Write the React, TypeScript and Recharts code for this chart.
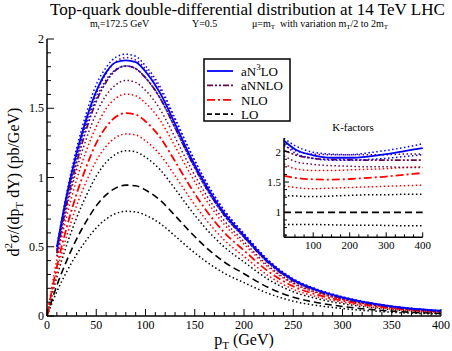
import React from 'react';
import { LineChart, Line, XAxis, YAxis } from 'recharts';

// pT grid (GeV) of the main distribution
const pt = [0, 10, 20, 30, 40, 50, 60, 70, 80, 90, 100, 115, 130, 145, 160, 180, 200, 225, 250, 275, 300, 350, 400];

// d2sigma/(dpT dY) in pb/GeV
const lo = [0, 0.22, 0.4, 0.555, 0.685, 0.795, 0.875, 0.925, 0.945, 0.94, 0.91, 0.835, 0.725, 0.61, 0.505, 0.39, 0.305, 0.205, 0.136, 0.096, 0.069, 0.035, 0.0185];
const loUp = [0, 0.282, 0.512, 0.708, 0.871, 1.01, 1.109, 1.169, 1.193, 1.185, 1.147, 1.055, 0.918, 0.774, 0.642, 0.498, 0.39, 0.263, 0.175, 0.124, 0.089, 0.046, 0.024];
const loDown = [0, 0.176, 0.32, 0.444, 0.548, 0.636, 0.7, 0.74, 0.756, 0.752, 0.728, 0.667, 0.578, 0.485, 0.401, 0.309, 0.241, 0.162, 0.107, 0.075, 0.054, 0.027, 0.0144];
const nlo = [0, 0.356, 0.64, 0.88, 1.079, 1.248, 1.365, 1.438, 1.465, 1.454, 1.406, 1.288, 1.117, 0.939, 0.778, 0.603, 0.473, 0.32, 0.214, 0.152, 0.11, 0.057, 0.031];
const nloUp = [0, 0.405, 0.72, 0.982, 1.195, 1.367, 1.496, 1.573, 1.602, 1.59, 1.538, 1.411, 1.225, 1.031, 0.854, 0.661, 0.519, 0.35, 0.233, 0.165, 0.119, 0.061, 0.032];
const nloDown = [0, 0.319, 0.576, 0.794, 0.973, 1.121, 1.225, 1.29, 1.314, 1.307, 1.265, 1.163, 1.012, 0.853, 0.708, 0.548, 0.43, 0.29, 0.193, 0.137, 0.099, 0.05, 0.027];
const annlo = [null, 0.453, 0.808, 1.104, 1.349, 1.55, 1.689, 1.776, 1.805, 1.786, 1.72, 1.571, 1.36, 1.141, 0.944, 0.728, 0.569, 0.382, 0.253, 0.179, 0.128, 0.065, 0.034];
const annloUp = [null, 0.471, 0.84, 1.149, 1.401, 1.606, 1.75, 1.836, 1.866, 1.849, 1.784, 1.633, 1.416, 1.19, 0.985, 0.761, 0.595, 0.4, 0.265, 0.187, 0.135, 0.069, 0.036];
const annloDown = [null, 0.433, 0.772, 1.055, 1.281, 1.463, 1.593, 1.67, 1.701, 1.687, 1.629, 1.49, 1.289, 1.081, 0.893, 0.688, 0.537, 0.36, 0.238, 0.168, 0.121, 0.061, 0.032];
const an3lo = [null, 0.495, 0.872, 1.177, 1.425, 1.622, 1.759, 1.832, 1.845, 1.833, 1.765, 1.607, 1.388, 1.159, 0.96, 0.741, 0.58, 0.391, 0.261, 0.186, 0.135, 0.07, 0.038];
const an3loUp = [null, 0.502, 0.888, 1.21, 1.466, 1.67, 1.794, 1.869, 1.89, 1.875, 1.806, 1.653, 1.428, 1.197, 0.989, 0.762, 0.595, 0.402, 0.269, 0.192, 0.139, 0.072, 0.039];
const an3loDown = [null, 0.48, 0.848, 1.149, 1.384, 1.574, 1.706, 1.781, 1.805, 1.786, 1.72, 1.57, 1.356, 1.136, 0.939, 0.725, 0.567, 0.382, 0.254, 0.18, 0.13, 0.067, 0.036];

// K-factors (ratio to LO) for the inset
const kPt = [20, 50, 100, 150, 200, 250, 300, 350, 400];
const kAn3lo = [2.18, 2.04, 1.94, 1.9, 1.9, 1.92, 1.96, 2.01, 2.06];
const kAn3loUp = [2.22, 2.1, 1.99, 1.96, 1.95, 1.98, 2.02, 2.07, 2.13];
const kAn3loDown = [2.12, 1.98, 1.89, 1.86, 1.86, 1.87, 1.89, 1.92, 1.95];
const kAnnlo = [2.02, 1.95, 1.89, 1.87, 1.865, 1.86, 1.86, 1.86, 1.86];
const kAnnloUp = [2.1, 2.02, 1.96, 1.95, 1.95, 1.95, 1.95, 1.96, 1.96];
const kAnnloDown = [1.93, 1.84, 1.79, 1.77, 1.76, 1.75, 1.75, 1.74, 1.74];
const kNlo = [1.6, 1.57, 1.545, 1.54, 1.55, 1.57, 1.59, 1.62, 1.65];
const kNloUp = [1.8, 1.72, 1.69, 1.69, 1.7, 1.71, 1.72, 1.74, 1.75];
const kNloDown = [1.44, 1.41, 1.39, 1.4, 1.41, 1.42, 1.43, 1.44, 1.45];
const kLo = [1, 1, 1, 1, 1, 1, 1, 1, 1];
const kLoUp = [1.28, 1.27, 1.26, 1.27, 1.28, 1.29, 1.29, 1.3, 1.3];
const kLoDown = [0.8, 0.8, 0.8, 0.795, 0.79, 0.79, 0.785, 0.78, 0.78];

// axis ticks
const xTicks = [0, 10, 20, 30, 40, 50, 60, 70, 80, 90, 100, 110, 120, 130, 140, 150, 160, 170, 180, 190, 200, 210, 220, 230, 240, 250, 260, 270, 280, 290, 300, 310, 320, 330, 340, 350, 360, 370, 380, 390, 400];
const yTicks = [0, 0.1, 0.2, 0.3, 0.4, 0.5, 0.6, 0.7, 0.8, 0.9, 1, 1.1, 1.2, 1.3, 1.4, 1.5, 1.6, 1.7, 1.8, 1.9, 2];
const kxTicks = [25, 50, 75, 100, 125, 150, 175, 200, 225, 250, 275, 300, 325, 350, 375, 400];
const kyTicks = [0.625, 0.75, 0.875, 1, 1.125, 1.25, 1.375, 1.5, 1.625, 1.75, 1.875, 2, 2.125];

const BLUE = '#0000ff';
const PURPLE = '#670748';
const RED = '#ff0000';
const BLACK = '#000000';
const FONT = "'Liberation Serif', 'DejaVu Serif', 'Times New Roman', serif";
const fontStyle = { fontFamily: FONT };

const mainData = pt.map((p, i) => ({
  pt: p,
  lo: lo[i], loUp: loUp[i], loDown: loDown[i],
  nlo: nlo[i], nloUp: nloUp[i], nloDown: nloDown[i],
  annlo: annlo[i], annloUp: annloUp[i], annloDown: annloDown[i],
  an3lo: an3lo[i], an3loUp: an3loUp[i], an3loDown: an3loDown[i],
}));

const kData = kPt.map((p, i) => ({
  pt: p,
  lo: kLo[i], loUp: kLoUp[i], loDown: kLoDown[i],
  nlo: kNlo[i], nloUp: kNloUp[i], nloDown: kNloDown[i],
  annlo: kAnnlo[i], annloUp: kAnnloUp[i], annloDown: kAnnloDown[i],
  an3lo: kAn3lo[i], an3loUp: kAn3loUp[i], an3loDown: kAn3loDown[i],
}));

const DOT = '1.5 2.5';
const series = [
  { key: 'loDown', color: BLACK, dash: DOT, w: 1.5 },
  { key: 'loUp', color: BLACK, dash: DOT, w: 1.5 },
  { key: 'lo', color: BLACK, dash: '7 4', w: 1.6 },
  { key: 'nloDown', color: RED, dash: DOT, w: 1.5 },
  { key: 'nloUp', color: RED, dash: DOT, w: 1.5 },
  { key: 'nlo', color: RED, dash: '8 3 2 3', w: 1.8 },
  { key: 'annloDown', color: PURPLE, dash: DOT, w: 1.5 },
  { key: 'annloUp', color: PURPLE, dash: DOT, w: 1.5 },
  { key: 'annlo', color: PURPLE, dash: '6 2 2 2 2 2', w: 1.8 },
  { key: 'an3loDown', color: BLUE, dash: DOT, w: 1.5 },
  { key: 'an3loUp', color: BLUE, dash: DOT, w: 1.5 },
  { key: 'an3lo', color: BLUE, dash: undefined, w: 1.8 },
];

const near = (v: number, step: number) => Math.abs(v / step - Math.round(v / step)) < 1e-6;

// inward tick marks, labels only on major ticks
const makeTick = (side: string, isMajor: (v: number) => boolean, major: number, minor: number, fs: number, fmt?: (v: number) => string) =>
  (props: any) => {
    const { x, y, payload } = props;
    const v = payload.value;
    const big = isMajor(v);
    const len = big ? major : minor;
    let line;
    let label = null;
    if (side === 'bottom') {
      line = <line x1={x} y1={y} x2={x} y2={y - len} stroke="#000" strokeWidth={1} />;
      if (big && fmt) label = <text x={x} y={y + fs + 1} textAnchor="middle" fontSize={fs} fontFamily={FONT} style={fontStyle} fill="#000">{fmt(v)}</text>;
    } else if (side === 'top') {
      line = <line x1={x} y1={y} x2={x} y2={y + len} stroke="#000" strokeWidth={1} />;
    } else if (side === 'left') {
      line = <line x1={x} y1={y} x2={x + len} y2={y} stroke="#000" strokeWidth={1} />;
      if (big && fmt) label = <text x={x - 3} y={y + fs * 0.35} textAnchor="end" fontSize={fs} fontFamily={FONT} style={fontStyle} fill="#000">{fmt(v)}</text>;
    } else {
      line = <line x1={x} y1={y} x2={x - len} y2={y} stroke="#000" strokeWidth={1} />;
    }
    return <g>{line}{label}</g>;
  };

const axisLine = { stroke: '#000', strokeWidth: 1.5 };

const MainChart = () => (
  <LineChart width={452} height={351} data={mainData} margin={{ top: 39, right: 11, bottom: 0, left: 0 }} style={fontStyle}>
    <XAxis dataKey="pt" type="number" domain={[0, 400]} ticks={xTicks} interval={0} height={35}
      tickSize={0} tickMargin={0} tickLine={false} axisLine={axisLine}
      tick={makeTick('bottom', (v) => near(v, 50), 7, 4, 12, (v) => String(v))} />
    <XAxis xAxisId="top" orientation="top" dataKey="pt" type="number" domain={[0, 400]} ticks={xTicks} interval={0} height={0}
      tickSize={0} tickMargin={0} tickLine={false} axisLine={axisLine}
      tick={makeTick('top', (v) => near(v, 50), 7, 4, 12)} />
    <YAxis type="number" domain={[0, 2]} ticks={yTicks} interval={0} width={47}
      tickSize={0} tickMargin={0} tickLine={false} axisLine={axisLine}
      tick={makeTick('left', (v) => near(v, 0.5), 7, 4, 12, (v) => String(Math.round(v * 10) / 10))} />
    <YAxis yAxisId="right" orientation="right" type="number" domain={[0, 2]} ticks={yTicks} interval={0} width={0}
      tickSize={0} tickMargin={0} tickLine={false} axisLine={axisLine}
      tick={makeTick('right', (v) => near(v, 0.5), 7, 4, 12)} />
    {series.map((s) => (
      <Line key={s.key} dataKey={s.key} type="monotone" stroke={s.color} strokeWidth={s.w}
        strokeDasharray={s.dash} dot={false} activeDot={false} isAnimationActive={false} connectNulls={false} />
    ))}
  </LineChart>
);

const InsetChart = () => (
  <LineChart width={185} height={142} data={kData} margin={{ top: 20.3, right: 12.3, bottom: 0, left: 0 }} style={fontStyle}>
    <XAxis dataKey="pt" type="number" domain={[20, 400]} ticks={kxTicks} interval={0} height={22.7}
      tickSize={0} tickMargin={0} tickLine={false} axisLine={axisLine}
      tick={makeTick('bottom', (v) => near(v, 100), 5, 3, 11, (v) => String(v))} />
    <XAxis xAxisId="top" orientation="top" dataKey="pt" type="number" domain={[20, 400]} ticks={kxTicks} interval={0} height={0}
      tickSize={0} tickMargin={0} tickLine={false} axisLine={axisLine}
      tick={makeTick('top', (v) => near(v, 100), 5, 3, 11)} />
    <YAxis type="number" domain={[0.59, 2.22]} ticks={kyTicks} interval={0} width={34}
      tickSize={0} tickMargin={0} tickLine={false} axisLine={axisLine}
      tick={makeTick('left', (v) => near(v, 0.5), 5, 3, 11, (v) => String(v))} />
    <YAxis yAxisId="right" orientation="right" type="number" domain={[0.59, 2.22]} ticks={kyTicks} interval={0} width={0}
      tickSize={0} tickMargin={0} tickLine={false} axisLine={axisLine}
      tick={makeTick('right', (v) => near(v, 0.5), 5, 3, 11)} />
    {series.map((s) => (
      <Line key={s.key} dataKey={s.key} type="monotone" stroke={s.color} strokeWidth={s.w}
        strokeDasharray={s.dash} dot={false} activeDot={false} isAnimationActive={false} />
    ))}
  </LineChart>
);

const legendRows = [
  { label: 'aN3LO', color: BLUE, dash: undefined },
  { label: 'aNNLO', color: PURPLE, dash: '6 2 2 2 2 2' },
  { label: 'NLO', color: RED, dash: '8 3 2 3' },
  { label: 'LO', color: BLACK, dash: '5 3' },
];

const Overlay = () => (
  <svg width={452} height={351} fontFamily={FONT} style={{ position: 'absolute', left: 0, top: 0, pointerEvents: 'none', fontFamily: FONT }}
    fill="#000">
    <text x={50} y={15} fontSize={16} textLength={395} lengthAdjust="spacingAndGlyphs">
      Top-quark double-differential distribution at 14 TeV LHC
    </text>
    <g fontSize={10}>
      <text x={90} y={27}>m<tspan fontSize={7} dy={2}>t</tspan><tspan dy={-2}>=172.5 GeV</tspan></text>
      <text x={192} y={27}>Y=0.5</text>
      <text x={252} y={27}>
        μ=m<tspan fontSize={7} dy={2}>T</tspan><tspan dy={-2}>{'\u00a0 with variation m'}</tspan>
        <tspan fontSize={7} dy={2}>T</tspan><tspan dy={-2}>/2 to 2m</tspan>
        <tspan fontSize={7} dy={2}>T</tspan>
      </text>
    </g>
    <text x={244} y={345} fontSize={16} textAnchor="middle">
      p<tspan fontSize={11} dy={4}>T</tspan><tspan dy={-4}> (GeV)</tspan>
    </text>
    <text transform="translate(19,182) rotate(-90)" fontSize={16} textAnchor="middle">
      d<tspan fontSize={11} dy={-7}>2</tspan><tspan dy={7}>σ/(dp</tspan>
      <tspan fontSize={11} dy={4}>T</tspan><tspan dy={-4}> dY) (pb/GeV)</tspan>
    </text>
    <text x={353} y={131} fontSize={11} textAnchor="middle">K-factors</text>
    <rect x={204} y={59} width={86} height={62} fill="#fff" stroke="#000" strokeWidth={1.5} />
    {legendRows.map((r, i) => {
      const y = 71 + i * 14.4;
      return (
        <g key={r.label}>
          <line x1={207} x2={233} y1={y} y2={y} stroke={r.color} strokeWidth={1.8} strokeDasharray={r.dash} />
          <text x={241} y={y + 5} fontSize={13}>
            {r.label === 'aN3LO'
              ? <>aN<tspan fontSize={9} dy={-6}>3</tspan><tspan dy={6}>LO</tspan></>
              : r.label}
          </text>
        </g>
      );
    })}
  </svg>
);

export default function App() {
  return (
    <div style={{ position: 'absolute', left: 0, top: 0, width: 452, height: 351, background: '#fff', fontFamily: FONT }}>
      <MainChart />
      <div style={{ position: 'absolute', left: 250, top: 118 }}>
        <InsetChart />
      </div>
      <Overlay />
    </div>
  );
}
